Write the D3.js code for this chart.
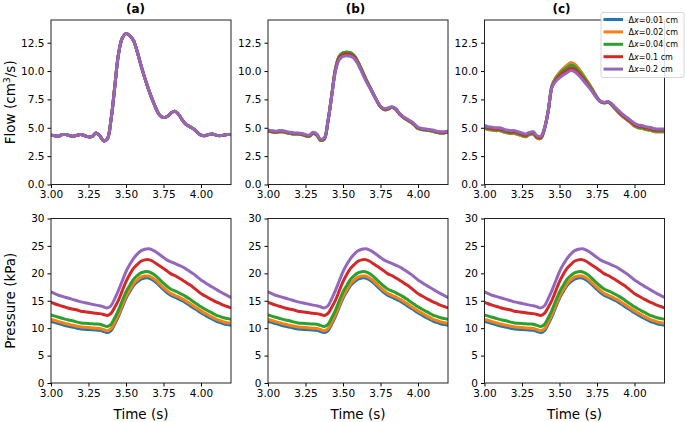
<!DOCTYPE html>
<html lang="en">
<head>
<meta charset="UTF-8">
<script src="https://d3js.org/d3.v7.min.js"></script>
<title>Flow and pressure</title>
<style>
  body { margin: 0; background: #fff; }
  text { font-family: "DejaVu Sans", sans-serif; fill: #000; }
</style>
</head>
<body>
<div id="draw_here"></div>
<script>

var width = 685;
var height = 422;

// time samples (s)
var time = [3.000, 3.025, 3.050, 3.075, 3.100, 3.125, 3.150, 3.175, 3.200, 3.225,
            3.250, 3.275, 3.300, 3.325, 3.350, 3.375, 3.400, 3.425, 3.450, 3.475,
            3.500, 3.525, 3.550, 3.575, 3.600, 3.625, 3.650, 3.675, 3.700, 3.725,
            3.750, 3.775, 3.800, 3.825, 3.850, 3.875, 3.900, 3.925, 3.950, 3.975,
            4.000, 4.025, 4.050, 4.075, 4.100, 4.125, 4.150, 4.175, 4.200];

var seriesNames = ["\u0394x=0.01 cm", "\u0394x=0.02 cm", "\u0394x=0.04 cm", "\u0394x=0.1 cm", "\u0394x=0.2 cm"];
var seriesColors = ["#1f77b4", "#ff7f0e", "#2ca02c", "#d62728", "#9467bd"];
var panelTitles = ["(a)", "(b)", "(c)"];

// flow (cm3/s), panel (a): all resolutions coincide
var flowA = [4.35, 4.30, 4.25, 4.40, 4.40, 4.30, 4.25, 4.35, 4.40, 4.30,
             4.20, 4.25, 4.55, 4.30, 3.85, 4.00, 5.70, 8.60, 11.50, 12.90,
             13.30, 13.10, 12.70, 11.70, 10.50, 9.40, 8.40, 7.50, 6.70, 6.10,
             5.90, 6.00, 6.30, 6.45, 6.20, 5.70, 5.30, 5.10, 4.90, 4.60,
             4.35, 4.30, 4.40, 4.45, 4.35, 4.30, 4.35, 4.40, 4.40];

// flow, panel (b)
var flowB_fine = [4.70, 4.65, 4.60, 4.65, 4.65, 4.55, 4.50, 4.45, 4.45, 4.40,
                  4.30, 4.25, 4.50, 4.35, 3.90, 4.00, 5.60, 7.90, 10.20, 11.30,
                  11.60, 11.65, 11.60, 11.35, 10.80, 10.10, 9.35, 8.70, 8.05, 7.40,
                  6.85, 6.60, 6.65, 6.80, 6.65, 6.25, 5.95, 5.70, 5.50, 5.25,
                  4.95, 4.85, 4.80, 4.75, 4.70, 4.60, 4.55, 4.55, 4.60];
var flowB_red = [4.75, 4.70, 4.65, 4.70, 4.70, 4.60, 4.55, 4.50, 4.50, 4.45,
                 4.35, 4.30, 4.55, 4.40, 3.95, 4.05, 5.60, 7.85, 10.10, 11.15,
                 11.45, 11.50, 11.45, 11.25, 10.70, 10.00, 9.30, 8.65, 8.00, 7.40,
                 6.85, 6.65, 6.70, 6.80, 6.65, 6.25, 5.95, 5.75, 5.55, 5.30,
                 5.00, 4.90, 4.85, 4.80, 4.75, 4.65, 4.60, 4.60, 4.65];
var flowB_purple = [4.80, 4.75, 4.70, 4.75, 4.75, 4.65, 4.60, 4.55, 4.55, 4.50,
                    4.40, 4.35, 4.60, 4.45, 4.00, 4.10, 5.60, 7.80, 10.00, 11.00,
                    11.30, 11.35, 11.30, 11.10, 10.60, 9.90, 9.20, 8.60, 8.00, 7.40,
                    6.90, 6.70, 6.75, 6.85, 6.70, 6.30, 6.00, 5.80, 5.60, 5.35,
                    5.05, 4.95, 4.90, 4.85, 4.80, 4.70, 4.65, 4.65, 4.70];

// flow, panel (c)
var flowC_fine = [4.95, 4.85, 4.80, 4.75, 4.75, 4.65, 4.55, 4.50, 4.50, 4.40,
                  4.30, 4.20, 4.40, 4.45, 4.10, 4.05, 4.90, 6.50, 8.70, 9.40,
                  9.85, 10.20, 10.50, 10.70, 10.60, 10.25, 9.80, 9.30, 8.80, 8.25,
                  7.70, 7.30, 7.20, 7.25, 7.00, 6.60, 6.25, 5.95, 5.70, 5.45,
                  5.15, 5.00, 4.95, 4.85, 4.80, 4.70, 4.65, 4.65, 4.65];
var flowC_green = [5.00, 4.90, 4.85, 4.80, 4.80, 4.70, 4.60, 4.55, 4.55, 4.45,
                   4.35, 4.25, 4.45, 4.50, 4.15, 4.10, 4.90, 6.50, 8.65, 9.30,
                   9.70, 10.05, 10.30, 10.50, 10.40, 10.05, 9.65, 9.20, 8.70, 8.20,
                   7.65, 7.30, 7.20, 7.25, 7.00, 6.65, 6.30, 6.00, 5.75, 5.50,
                   5.20, 5.05, 5.00, 4.90, 4.85, 4.75, 4.70, 4.70, 4.70];
var flowC_red = [5.10, 5.00, 4.95, 4.90, 4.90, 4.80, 4.70, 4.65, 4.65, 4.55,
                 4.45, 4.35, 4.55, 4.60, 4.20, 4.15, 4.95, 6.50, 8.60, 9.20,
                 9.55, 9.85, 10.05, 10.25, 10.15, 9.85, 9.45, 9.05, 8.60, 8.10,
                 7.60, 7.30, 7.20, 7.30, 7.05, 6.70, 6.35, 6.05, 5.80, 5.55,
                 5.30, 5.15, 5.10, 5.00, 4.95, 4.85, 4.80, 4.80, 4.80];
var flowC_purple = [5.20, 5.10, 5.05, 5.00, 5.00, 4.90, 4.80, 4.75, 4.75, 4.65,
                    4.55, 4.45, 4.60, 4.65, 4.30, 4.25, 5.00, 6.50, 8.60, 9.10,
                    9.40, 9.65, 9.85, 10.05, 9.95, 9.65, 9.30, 8.90, 8.50, 8.05,
                    7.60, 7.30, 7.25, 7.30, 7.10, 6.75, 6.45, 6.15, 5.90, 5.65,
                    5.40, 5.25, 5.20, 5.10, 5.05, 4.95, 4.90, 4.90, 4.90];

// pressure (kPa), same in all three panels
var pressBlue = [11.25, 11.05, 10.85, 10.65, 10.45, 10.30, 10.15, 10.00, 9.85, 9.80,
                 9.75, 9.70, 9.65, 9.60, 9.40, 9.20, 9.55, 10.75, 12.15, 13.85,
                 15.45, 16.65, 17.75, 18.45, 18.95, 19.15, 19.15, 18.85, 18.35, 17.70,
                 17.05, 16.45, 15.95, 15.65, 15.35, 15.00, 14.60, 14.15, 13.70, 13.25,
                 12.80, 12.40, 12.00, 11.65, 11.30, 11.05, 10.80, 10.65, 10.55];
var pressOrange = [11.60, 11.40, 11.20, 11.00, 10.80, 10.65, 10.50, 10.35, 10.20, 10.15,
                   10.10, 10.05, 10.00, 9.95, 9.75, 9.55, 9.90, 11.10, 12.50, 14.20,
                   15.80, 17.00, 18.10, 18.80, 19.30, 19.50, 19.50, 19.20, 18.70, 18.05,
                   17.40, 16.80, 16.30, 16.00, 15.70, 15.35, 14.95, 14.50, 14.05, 13.60,
                   13.15, 12.75, 12.35, 12.00, 11.65, 11.40, 11.15, 11.00, 10.90];
var pressGreen = [12.40, 12.20, 12.00, 11.80, 11.60, 11.45, 11.30, 11.10, 10.95, 10.90,
                  10.85, 10.80, 10.75, 10.70, 10.50, 10.30, 10.70, 11.90, 13.30, 15.00,
                  16.60, 17.80, 18.90, 19.60, 20.10, 20.30, 20.30, 20.00, 19.50, 18.85,
                  18.20, 17.60, 17.10, 16.80, 16.50, 16.15, 15.75, 15.30, 14.80, 14.35,
                  13.90, 13.50, 13.10, 12.75, 12.40, 12.15, 11.90, 11.75, 11.60];
var pressRed = [14.70, 14.45, 14.20, 14.00, 13.80, 13.60, 13.45, 13.30, 13.10, 13.00,
                12.90, 12.80, 12.70, 12.65, 12.50, 12.30, 12.70, 13.80, 15.10, 16.80,
                18.50, 19.80, 20.90, 21.60, 22.20, 22.45, 22.50, 22.25, 21.80, 21.35,
                20.90, 20.40, 19.90, 19.60, 19.20, 18.80, 18.35, 17.90, 17.40, 16.85,
                16.30, 15.90, 15.50, 15.15, 14.80, 14.50, 14.20, 13.95, 13.70];
var pressPurple = [16.60, 16.30, 16.00, 15.80, 15.60, 15.40, 15.20, 15.00, 14.80, 14.65,
                   14.50, 14.35, 14.20, 14.10, 13.90, 13.70, 14.10, 15.40, 16.90, 18.60,
                   20.30, 21.60, 22.70, 23.50, 24.10, 24.40, 24.50, 24.30, 23.90, 23.40,
                   22.90, 22.40, 22.10, 21.80, 21.50, 21.20, 20.80, 20.35, 19.90, 19.35,
                   18.80, 18.35, 17.90, 17.50, 17.10, 16.70, 16.30, 15.95, 15.60];

var xTicks = [3.00, 3.25, 3.50, 3.75, 4.00];
var flowTicks = [0, 2.5, 5, 7.5, 10, 12.5];
var pressTicks = [0, 5, 10, 15, 20, 25, 30];

var flowSets = [
    [flowA, flowA, flowA, flowA, flowA],
    [flowB_fine, flowB_fine, flowB_fine, flowB_red, flowB_purple],
    [flowC_fine, flowC_fine, flowC_green, flowC_red, flowC_purple]
];
var pressSet = [pressBlue, pressOrange, pressGreen, pressRed, pressPurple];

// layout
var colLeft = [51, 268, 484.5];
var plotW = 180;
var rowTop = [20, 218.5];
var plotH = 164.5;
var titleX = [135.5, 355.5, 561.5];

var svg = d3.select("#draw_here")
    .append("svg")
    .attr("width", width)
    .attr("height", height);

function drawPanel(left, top, yDomain, yTicks, yFmt, sets) {
    var x = d3.scaleLinear().domain([3, 4.2]).range([left, left + plotW]);
    var y = d3.scaleLinear().domain(yDomain).range([top + plotH, top]);

    var line = d3.line()
        .x((d, i) => x(time[i]))
        .y(d => y(d))
        .curve(d3.curveCatmullRom.alpha(0.5));

    var clipId = "clip" + Math.round(left) + "_" + Math.round(top);
    svg.append("clipPath").attr("id", clipId)
        .append("rect")
        .attr("x", left).attr("y", top)
        .attr("width", plotW).attr("height", plotH);

    svg.append("g")
        .attr("clip-path", "url(#" + clipId + ")")
        .selectAll("path")
        .data(sets)
        .join("path")
        .attr("d", d => line(d))
        .attr("fill", "none")
        .attr("stroke", (d, i) => seriesColors[i])
        .attr("stroke-width", 3)
        .attr("stroke-linejoin", "round")
        .attr("stroke-linecap", "round");

    svg.append("g")
        .attr("transform", `translate(0,${top + plotH})`)
        .call(d3.axisBottom(x).tickValues(xTicks).tickFormat(d3.format(".2f")).tickSize(3.5).tickPadding(3).tickSizeOuter(0))
        .call(g => g.select(".domain").remove())
        .call(g => g.selectAll("text").attr("font-size", 10.5).attr("font-family", "DejaVu Sans"));

    svg.append("g")
        .attr("transform", `translate(${left},0)`)
        .call(d3.axisLeft(y).tickValues(yTicks).tickFormat(yFmt).tickSize(3.5).tickPadding(3).tickSizeOuter(0))
        .call(g => g.select(".domain").remove())
        .call(g => g.selectAll("text").attr("font-size", 10.5).attr("font-family", "DejaVu Sans"));

    svg.append("rect")
        .attr("x", left).attr("y", top)
        .attr("width", plotW).attr("height", plotH)
        .attr("fill", "none")
        .attr("stroke", "#222")
        .attr("stroke-width", 1);
}

for (var c = 0; c < 3; c++) {
    drawPanel(colLeft[c], rowTop[0], [0, 14.5], flowTicks, d3.format(".1f"), flowSets[c]);
    drawPanel(colLeft[c], rowTop[1], [0, 30], pressTicks, d3.format("d"), pressSet);

    svg.append("text")
        .attr("x", titleX[c])
        .attr("y", 13)
        .attr("text-anchor", "middle")
        .attr("font-size", 12)
        .attr("font-weight", "bold")
        .text(panelTitles[c]);

    svg.append("text")
        .attr("x", colLeft[c] + plotW / 2)
        .attr("y", 419)
        .attr("text-anchor", "middle")
        .attr("font-size", 13.5)
        .text("Time (s)");
}

// y labels
var flowLabel = svg.append("text")
    .attr("transform", `translate(14.5,${rowTop[0] + plotH / 2}) rotate(-90)`)
    .attr("text-anchor", "middle")
    .attr("font-size", 13.5);
flowLabel.append("tspan").text("Flow (cm");
flowLabel.append("tspan").attr("dy", -5).attr("font-size", 9.5).text("3");
flowLabel.append("tspan").attr("dy", 5).text("/s)");

svg.append("text")
    .attr("transform", `translate(14.5,${rowTop[1] + plotH / 2}) rotate(-90)`)
    .attr("text-anchor", "middle")
    .attr("font-size", 13.5)
    .text("Pressure (kPa)");

// legend
var legend = svg.append("g").attr("transform", "translate(601,12.5)");
legend.append("rect")
    .attr("width", 83).attr("height", 65)
    .attr("rx", 2)
    .attr("fill", "#fff")
    .attr("fill-opacity", 0.85)
    .attr("stroke", "#ccc")
    .attr("stroke-width", 0.8);

var rows = legend.selectAll("g.item")
    .data(seriesNames)
    .join("g")
    .attr("class", "item")
    .attr("transform", (d, i) => `translate(0,${7 + i * 12.4})`);

rows.append("line")
    .attr("x1", 2.5).attr("x2", 22)
    .attr("stroke", (d, i) => seriesColors[i])
    .attr("stroke-width", 3);

rows.append("text")
    .attr("x", 27.5)
    .attr("y", 3)
    .attr("font-size", 8)
    .each(function(d) {
        var t = d3.select(this);
        t.append("tspan").text("\u0394");
        t.append("tspan").attr("font-style", "italic").text("x");
        t.append("tspan").text(d.slice(2));
    });

</script>
</body>
</html>
